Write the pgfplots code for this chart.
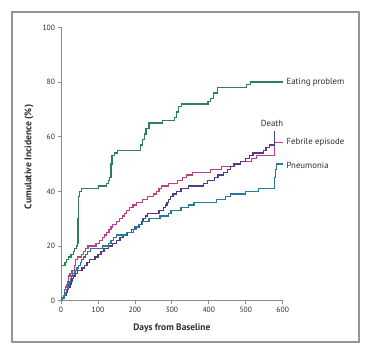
\documentclass[border=0pt]{standalone}
\usepackage{pgfplots}
\pgfplotsset{compat=1.18}
\usepackage{fontspec}
\setmainfont{PT Sans}
\definecolor{cgreen}{RGB}{46,125,92}
\definecolor{cmag}{RGB}{192,62,132}
\definecolor{cpur}{RGB}{80,60,132}
\definecolor{cblue}{RGB}{40,122,152}
\definecolor{framegray}{RGB}{150,150,150}
\definecolor{axgray}{RGB}{140,140,140}
\definecolor{txt}{RGB}{45,45,45}
\begin{document}
\begin{tikzpicture}[x=1pt,y=1pt]
\path[use as bounding box] (0,0) rectangle (371,355);
\draw[framegray, line width=1.2pt] (12,13) rectangle (359,343);
\begin{axis}[
  at={(61pt,54.3pt)}, anchor=south west,
  scale only axis, width=221.7pt, height=273.3pt,
  xmin=0, xmax=600, ymin=0, ymax=100,
  axis lines=left, axis line style={-, axgray, line width=0.9pt},
  xtick={0,100,...,600}, ytick={0,20,...,100},
  tick align=outside, major tick length=3.5pt,
  tick style={axgray, line width=0.8pt},
  ticklabel style={font=\fontsize{7.6}{9}\selectfont, text=txt},
  /pgf/number format/assume math mode=true,
  xticklabel style={yshift=1pt},
  yticklabel style={xshift=1pt},
  clip=false,
  every axis plot/.append style={const plot, line width=1.3pt, no marks}
]
% Eating problem
\addplot[cgreen] coordinates {
(0,13)(11,14)(15,15)(20,16)(27,17)(33,18)(37,19)(41,20)(44,21)(46,30)(48,38)(51,40)(56,41)
(101,42)(124,43)(128,44)(131,45)(135,50)(138,53)(145,54)(152,55)
(216,57)(221,59)(226,61)(230,63)(238,65)(274,66)(307,67)(312,69)(318,71)(327,72)
(398,73)(405,74)(412,76)(423,78)(502,79)(512,80)(600,80)};
% Febrile episode
\addplot[cmag] coordinates {
(0,0)(3,1)(6,2)(9,4)(12,5)(15,6)(18,7)(21,9)(24,10)(30,11)(36,13)(40,15)(45,16)(55,17)(60,18)(66,19)(73,20)
(95,21)(105,22)(112,23)(118,24)(124,25)(130,26)(135,27)(140,28)(150,29)(158,30)(166,31)(172,32)(178,33)(186,34)
(195,35)(205,36)(220,37)(235,38)(250,39)(258,40)(265,41)(272,42)(290,43)(315,44)(328,45)(340,46)(355,47)
(405,48)(435,49)(470,50)(485,51)(515,52)(530,53)(578,58)(600,58)};
% Death
\addplot[cpur] coordinates {
(0,0)(5,1)(10,2)(15,3)(18,4)(21,5)(24,6)(27,7)(30,8)(34,9)(38,10)(45,11)(57,12)(63,13)(70,14)(77,15)
(92,16)(100,17)(108,18)(116,19)(128,20)(140,21)(150,22)(160,23)(168,24)(180,25)(190,26)(200,27)(212,28)
(218,29)(222,30)(228,31)(235,32)(265,33)(278,34)(283,35)(287,36)(291,37)(296,38)(303,39)(313,40)(325,41)
(345,42)(385,43)(396,44)(415,45)(425,46)(440,47)(450,48)(458,49)(466,50)(485,51)(500,52)(510,53)(520,54)
(548,55)(555,56)(565,57)(577,62)(577,62)};
% Pneumonia
\addplot[cblue] coordinates {
(0,0)(4,1)(8,2)(11,3)(14,4)(17,5)(19,6)(22,7)(25,8)(28,9)(31,10)(38,11)(43,12)(47,13)(52,14)(56,15)(61,16)
(66,17)(72,18)(80,19)(112,20)(128,21)(135,22)(142,23)(150,24)(178,25)(196,26)(203,27)(210,28)(220,29)
(238,30)(268,31)(290,32)(298,33)(325,34)(345,35)(360,36)(420,37)(445,38)(458,39)(500,40)(535,41)
(577,45)(580,48)(583,50)(600,50)};
\node[anchor=west, inner sep=0pt, text=txt, font=\fontsize{8.8}{10}\selectfont] at (axis cs:610,80) {Eating problem};
\node[inner sep=0pt, text=txt, font=\fontsize{8.8}{10}\selectfont] at (axis cs:571,64.7) {Death};
\node[anchor=west, inner sep=0pt, text=txt, font=\fontsize{8.8}{10}\selectfont] at (axis cs:610,58) {Febrile episode};
\node[anchor=west, inner sep=0pt, text=txt, font=\fontsize{8.8}{10}\selectfont] at (axis cs:610,49.5) {Pneumonia};
\node[text=txt, font=\bfseries\fontsize{9.4}{11}\selectfont] at (axis cs:300,-10) {Days from Baseline};
\node[text=txt, rotate=90, font=\bfseries\fontsize{9.6}{11}\selectfont] at (axis cs:-86.6,52.6) {Cumulative Incidence (\%)};
\end{axis}
\end{tikzpicture}
\end{document}
